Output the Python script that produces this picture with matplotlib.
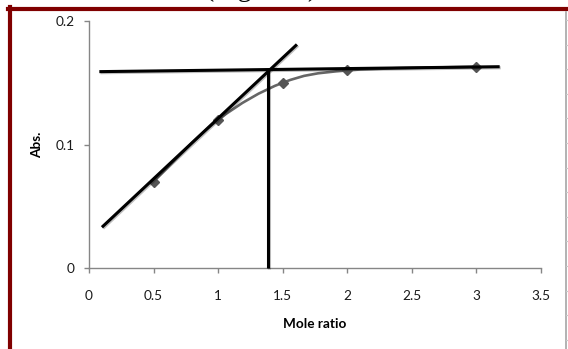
import matplotlib
matplotlib.use('Agg')
import numpy as np
import matplotlib.pyplot as plt
import matplotlib.patheffects as pe
from matplotlib.path import Path
from matplotlib.patches import PathPatch
from matplotlib.lines import Line2D

# mole ratio titration data
ratio = [0.5, 1.0, 1.5, 2.0, 3.0]
absorbance = [0.07, 0.12, 0.15, 0.16, 0.163]

# hand drawn construction lines (data units)
slope_x = [0.10, 1.61]
slope_y = [0.033, 0.181]
plateau_x = [0.08, 3.18]
plateau_y = [0.159, 0.163]
break_x = [1.385, 1.385]
break_y = [0.0, 0.161]

x_ticks = [0, 0.5, 1, 1.5, 2, 2.5, 3, 3.5]
x_tick_labels = ['0', '0.5', '1', '1.5', '2', '2.5', '3', '3.5']
y_ticks = [0, 0.1, 0.2]
y_tick_labels = ['0', '0.1', '0.2']

plt.rcParams['font.family'] = ['Lato', 'DejaVu Sans']


def smooth_path(xs, ys):
    """Excel style smoothed line as cubic bezier segments"""
    pts = np.column_stack([xs, ys])
    n = len(pts)
    verts = [pts[0]]
    codes = [Path.MOVETO]
    for i in range(n - 1):
        p0 = pts[max(i - 1, 0)]
        p1 = pts[i]
        p2 = pts[i + 1]
        p3 = pts[min(i + 2, n - 1)]
        c1 = p1 + (p2 - p0) / 6.0
        c2 = p2 - (p3 - p1) / 6.0
        verts += [c1, c2, p2]
        codes += [Path.CURVE4] * 3
    return Path(verts, codes)


fig = plt.figure(figsize=(5.68, 3.49), dpi=100)
ax = fig.add_axes([89 / 568, 1 - 268 / 349, 452 / 568, 247 / 349])

grey = '#868686'
for side in ['top', 'right']:
    ax.spines[side].set_visible(False)
for side in ['left', 'bottom']:
    ax.spines[side].set_color(grey)
    ax.spines[side].set_linewidth(1.0)

ax.set_xlim(0, 3.5)
ax.set_ylim(0, 0.2)
ax.set_xticks(x_ticks)
ax.set_xticklabels(x_tick_labels)
ax.set_yticks(y_ticks)
ax.set_yticklabels(y_tick_labels)
ax.tick_params(axis='x', direction='out', length=3.6, width=1, color=grey,
               pad=12, labelsize=9.8, labelcolor='#1a1a1a')
ax.tick_params(axis='y', direction='out', length=3.6, width=1, color=grey,
               pad=7, labelsize=9.8, labelcolor='#1a1a1a')

ax.set_xlabel('Mole ratio', fontsize=9.8, fontweight='bold', labelpad=12)
ax.set_ylabel('Abs.', fontsize=9.8, fontweight='bold', labelpad=9)

# smoothed data series with diamond markers
curve = PathPatch(smooth_path(ratio, absorbance), facecolor='none',
                  edgecolor='#666666', linewidth=1.9, zorder=3, clip_on=False)
ax.add_patch(curve)
ax.plot(ratio, absorbance, linestyle='none', marker='D', markersize=5.5,
        color='#555555', zorder=4, clip_on=False)

# construction lines with a soft shadow
shadow = [pe.SimpleLineShadow(offset=(0.8, -0.8), shadow_color='#000000', alpha=0.25),
          pe.Normal()]
for lx, ly in [(slope_x, slope_y), (plateau_x, plateau_y), (break_x, break_y)]:
    ax.plot(lx, ly, color='black', linewidth=2.2, solid_capstyle='butt',
            zorder=5, clip_on=False, path_effects=shadow)

# page frame around the chart
red = '#800000'
fig.add_artist(Line2D([8 / 568, 1.0], [1 - 9 / 349, 1 - 9 / 349],
                      transform=fig.transFigure, color=red, linewidth=3))
fig.add_artist(Line2D([10 / 568, 10 / 568], [0, 1 - 7 / 349],
                      transform=fig.transFigure, color=red, linewidth=3))
fig.add_artist(Line2D([565.5 / 568, 565.5 / 568], [0, 1 - 12 / 349],
                      transform=fig.transFigure, color='#a6a6a6', linewidth=1.2))
for ty in np.arange(20, 349, 24.6):
    fig.add_artist(Line2D([566 / 568, 568 / 568], [1 - ty / 349, 1 - ty / 349],
                          transform=fig.transFigure, color='#c8c8c8', linewidth=0.8))

# caption line running above the frame
fig.text(205 / 568, 1 + 4 / 349, '(Figure 5)', fontsize=20,
         family='Liberation Serif', va='baseline', ha='left')
fig.text(513 / 568, 1 + 5 / 349, '4', fontsize=20,
         family='Liberation Serif', va='baseline', ha='left')

fig.savefig('out.png', dpi=100)
